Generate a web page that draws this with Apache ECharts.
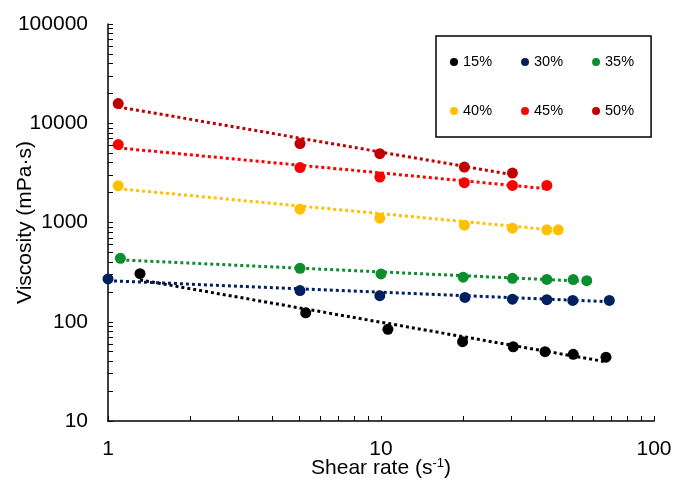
<!DOCTYPE html>
<html><head><meta charset="utf-8">
<script src="https://cdn.jsdelivr.net/npm/echarts@6/dist/echarts.min.js"></script>
<style>html,body{margin:0;padding:0;background:#fff}#c{width:676px;height:486px}</style>
</head><body><div id="c"></div>
<script>
const seriesNames = ['15%', '30%', '35%', '40%', '45%', '50%'];
const colors = ['#000000', '#002060', '#0B8F2E', '#FFC000', '#FF0000', '#C00000'];

const x15 = [1.31, 5.30, 10.6, 19.9, 30.5, 39.9, 50.6, 66.7];
const y15 = [305, 123, 84, 63, 56, 50, 47, 44];
const x30 = [1.0, 5.05, 9.9, 20.3, 30.3, 40.5, 50.4, 68.6];
const y30 = [270, 206, 183, 176, 169, 167, 164, 164];
const x35 = [1.11, 5.05, 10.0, 20.0, 30.3, 40.5, 50.6, 56.7];
const y35 = [436, 346, 303, 281, 274, 267, 266, 259];
const x40 = [1.09, 5.05, 9.9, 20.2, 30.3, 40.5, 44.6];
const y40 = [2350, 1362, 1105, 940, 876, 844, 844];
const x45 = [1.09, 5.05, 9.9, 20.2, 30.3, 40.5];
const y45 = [6100, 3575, 2870, 2520, 2365, 2365];
const x50 = [1.09, 5.05, 9.9, 20.2, 30.3];
const y50 = [15800, 6240, 4940, 3620, 3150];

// power-law trendline endpoints
const trendX = [[1.31, 66.7], [1.0, 68.6], [1.11, 56.7], [1.09, 44.6], [1.09, 40.5], [1.09, 30.3]];
const trendY = [[264, 39.5], [259, 159], [420, 255], [2190, 830], [5640, 2190], [14600, 3034]];

const xLabels = [1, 10, 100];
const yLabels = [10, 100, 1000, 10000, 100000];

const xs = [x15, x30, x35, x40, x45, x50];
const ys = [y15, y30, y35, y40, y45, y50];

function logTicks(lo, hi) {
  const out = [];
  for (let d = lo; d < hi; d *= 10) {
    for (let k = 1; k < 10; k++) out.push(d * k);
  }
  out.push(hi);
  return out;
}

const FONT = '"Liberation Sans", Arial, sans-serif';
const series = [];
seriesNames.forEach((n, i) => {
  series.push({
    name: n + ' trend', type: 'line', symbol: 'none', silent: true,
    data: trendX[i].map((x, j) => [x, trendY[i][j]]),
    lineStyle: { color: colors[i], width: 3, type: 'dotted' },
    z: 2
  });
});
seriesNames.forEach((n, i) => {
  series.push({
    name: n, type: 'scatter', symbol: 'circle', symbolSize: 11,
    data: xs[i].map((x, j) => [x, ys[i][j]]),
    itemStyle: { color: colors[i], opacity: 1 },
    z: 3
  });
});

const chart = echarts.init(document.getElementById('c'), null, { renderer: 'canvas' });
chart.setOption({
  animation: false,
  backgroundColor: '#ffffff',
  textStyle: { fontFamily: FONT },
  grid: { left: 108, right: 22, top: 24, bottom: 65, containLabel: false, outerBoundsMode: 'none' },
  legend: {
    data: seriesNames,
    left: 436, top: 36,
    width: 200,
    padding: [16, 17, 16, 14],
    itemGap: 29,
    itemWidth: 8, itemHeight: 8,
    icon: 'circle',
    backgroundColor: '#ffffff',
    borderColor: '#000000', borderWidth: 1.5, borderRadius: 0,
    textStyle: { fontFamily: FONT, fontSize: 14.5, color: '#000', lineHeight: 20 },
    z: 10
  },
  xAxis: {
    type: 'log', logBase: 10, min: 1, max: 100,
    name: '{a|Shear rate (s}{b|-1}{a|)}',
    nameLocation: 'middle', nameGap: 36, nameMoveOverlap: false,
    nameTextStyle: {
      rich: {
        a: { fontFamily: FONT, fontSize: 21, color: '#000' },
        b: { fontFamily: FONT, fontSize: 13, color: '#000', padding: [0, 0, 9, 0] }
      }
    },
    axisLine: { show: true, lineStyle: { color: '#000', width: 1.5 } },
    axisTick: { show: true, inside: true, length: 5, lineStyle: { color: '#000', width: 1 }, customValues: logTicks(1, 100) },
    axisLabel: { fontFamily: FONT, fontSize: 21, color: '#000', margin: 18, customValues: xLabels, formatter: v => String(Math.round(v)) },
    splitLine: { show: false },
    minorTick: { show: false }
  },
  yAxis: {
    type: 'log', logBase: 10, min: 10, max: 100000,
    name: 'Viscosity (mPa·s)',
    nameLocation: 'middle', nameGap: 72, nameMoveOverlap: false,
    nameTextStyle: { fontFamily: FONT, fontSize: 21, color: '#000' },
    axisLine: { show: true, lineStyle: { color: '#000', width: 1.5 } },
    axisTick: { show: true, inside: true, length: 5, lineStyle: { color: '#000', width: 1 }, customValues: logTicks(10, 100000) },
    axisLabel: { fontFamily: FONT, fontSize: 21, color: '#000', margin: 20, customValues: yLabels, formatter: v => String(Math.round(v)) },
    splitLine: { show: false },
    minorTick: { show: false }
  },
  series: series
});
</script>
</body></html>
